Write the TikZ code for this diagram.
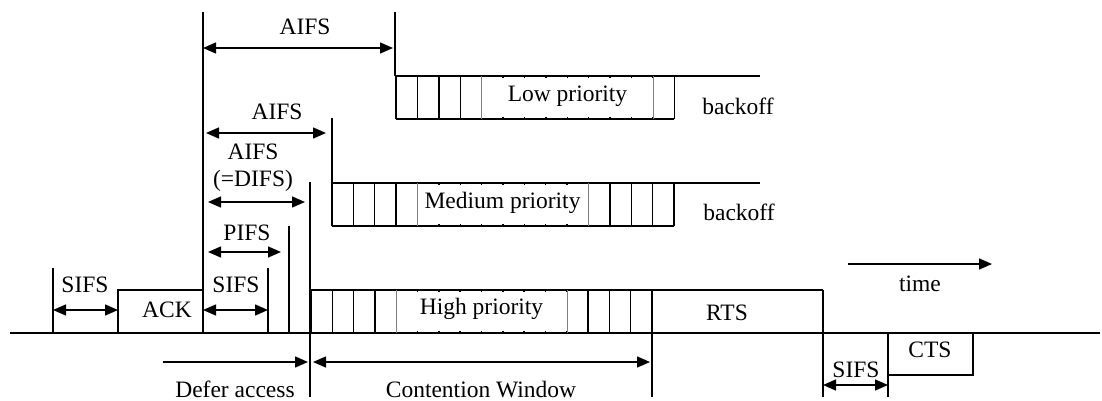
\documentclass[tikz,border=0pt]{standalone}
\usepackage{fontspec}
\setmainfont{Liberation Serif}
\usetikzlibrary{arrows.meta}
\begin{document}
\begin{tikzpicture}[x=1pt,y=-1pt,line width=1.4pt,
  tip/.tip={Triangle[length=13pt,width=11pt]},
  dim/.style={tip-tip},
  fwd/.style={-tip},
  lbl/.style={font=\fontsize{23.5}{26}\selectfont,inner sep=0pt,anchor=base},
  cover/.style={fill=white,draw=none},
  edge/.style={draw=gray,line width=0.6pt}]
\useasboundingbox (0,0) rectangle (1102,401);

% time axis
\coordinate (ax0) at (10,333); \coordinate (ax1) at (1100,333);
\draw (ax0) -- (ax1);

% vertical markers
\draw (53,268) -- (53,333);
\draw (203,12) -- (203,333);
\draw (268,268) -- (268,333);
\draw (289,226) -- (289,333);
\draw (310,182) -- (310,397);
\draw (332,118) -- (332,183);
\draw (395,12) -- (395,76);
\draw (652,290) -- (652,397);
\draw (823,290) -- (823,397);
\draw (888,333) -- (888,397);

% ACK box
\draw (118,333) -- (118,290) -- (203,290);

% Low priority backoff
\draw (395,76) -- (760,76);
\draw (396,119) -- (674,119);
\foreach \i in {0,...,13} \draw ({396+21.4*\i},76) -- ({396+21.4*\i},119);
\fill[cover] (480.5,78) rectangle (654,117);
\draw[edge] (481.6,76) -- (481.6,119);
\draw[edge] (652.8,76) -- (652.8,119);

% Medium priority backoff
\draw (332,183) -- (760,183);
\draw (332,226) -- (674,226);
\foreach \i in {0,...,16} \draw ({332+21.375*\i},183) -- ({332+21.375*\i},226);
\fill[cover] (416.5,185) rectangle (589.5,224);
\draw[edge] (417.5,183) -- (417.5,226);
\draw[edge] (588.5,183) -- (588.5,226);

% High priority backoff + RTS
\draw (311,290) -- (823,290);
\foreach \i in {0,...,16} \draw ({311+21.3125*\i},290) -- ({311+21.3125*\i},333);
\fill[cover] (395.3,292) rectangle (567.8,331);
\draw[edge] (396.3,290) -- (396.3,333);
\draw[edge] (566.8,290) -- (566.8,333);

% CTS box
\draw (888,333) -- (888,375) -- (973,375) -- (973,333);

% dimension arrows
\coordinate (s1a) at (53,310); \coordinate (s1b) at (118,310);
\draw[dim] (s1a) -- (s1b);
\coordinate (s2a) at (203,310); \coordinate (s2b) at (268,310);
\draw[dim] (s2a) -- (s2b);
\coordinate (pa) at (208,252); \coordinate (pb) at (281,252);
\draw[dim] (pa) -- (pb);
\coordinate (da) at (208,202); \coordinate (db) at (305,202);
\draw[dim] (da) -- (db);
\coordinate (ma) at (206,133); \coordinate (mb) at (326,133);
\draw[dim] (ma) -- (mb);
\coordinate (ta) at (203,48); \coordinate (tb) at (393,48);
\draw[dim] (ta) -- (tb);
\coordinate (dfa) at (163,362); \coordinate (dfb) at (308,362);
\draw[fwd] (dfa) -- (dfb);
\coordinate (cwa) at (313,362); \coordinate (cwb) at (650,362);
\draw[dim] (cwa) -- (cwb);
\coordinate (s3a) at (823,385); \coordinate (s3b) at (888,385);
\draw[dim] (s3a) -- (s3b);
\coordinate (tma) at (848,264); \coordinate (tmb) at (992,264);
\draw[fwd] (tma) -- (tmb);

% labels
\node[lbl] (lsifs1) at (85,292) {SIFS};
\node[lbl] (lack) at (167,317) {ACK};
\node[lbl] (lsifs2) at (236,292) {SIFS};
\node[lbl] (lpifs) at (247,240) {PIFS};
\node[lbl] (ldifs1) at (253,159) {AIFS};
\node[lbl] (ldifs2) at (253,186) {(=DIFS)};
\node[lbl] (laifsm) at (277,120) {AIFS};
\node[lbl] (laifst) at (305,35) {AIFS};
\node[lbl] (llow) at (567.5,102) {Low priority};
\node[lbl] (lbk1) at (738,115) {backoff};
\node[lbl] (lmed) at (502.5,208) {Medium priority};
\node[lbl] (lbk2) at (739,220) {backoff};
\node[lbl] (lhigh) at (481.5,314) {High priority};
\node[lbl] (lrts) at (727,320) {RTS};
\node[lbl] (lcw) at (481,397) {Contention Window};
\node[lbl] (ldef) at (235,397) {Defer access};
\node[lbl] (ltime) at (920,291) {time};
\node[lbl] (lcts) at (930,357) {CTS};
\node[lbl] (lsifs3) at (856,377) {SIFS};
\end{tikzpicture}
\end{document}
